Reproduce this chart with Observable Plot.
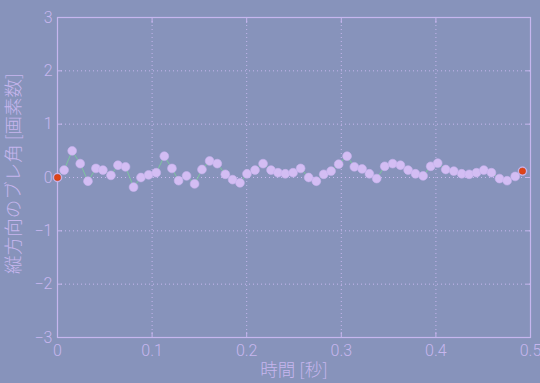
<!DOCTYPE html>
<html><head><meta charset="utf-8">
<script src="https://cdn.jsdelivr.net/npm/d3@7"></script>
<script src="https://cdn.jsdelivr.net/npm/@observablehq/plot@0.6"></script>
<style>html,body{margin:0;padding:0;background:#8793bb;overflow:hidden;}</style>
</head><body><div id="chart"></div>
<script>
const times = [0, 0.007, 0.0155, 0.024, 0.0322, 0.0406, 0.048, 0.0565, 0.0639, 0.0719,
  0.0804, 0.0882, 0.0963, 0.1044, 0.1129, 0.121, 0.128, 0.1364, 0.1449, 0.1527,
  0.1608, 0.1689, 0.1774, 0.1851, 0.1929, 0.2003, 0.2088, 0.2173, 0.2257, 0.2331,
  0.2408, 0.249, 0.257, 0.2655, 0.2736, 0.2814, 0.2892, 0.2972, 0.3061, 0.3138,
  0.322, 0.3297, 0.3374, 0.3459, 0.3543, 0.3625, 0.3706, 0.3784, 0.3865, 0.3945,
  0.4019, 0.4104, 0.4189, 0.4273, 0.4352, 0.4429, 0.4506, 0.4587, 0.4672, 0.4753,
  0.4838, 0.4915];
const values = [0, 0.14, 0.50, 0.26, -0.07, 0.17, 0.14, 0.04, 0.23, 0.20,
  -0.18, 0.0, 0.05, 0.09, 0.40, 0.17, -0.06, 0.03, -0.12, 0.15,
  0.31, 0.26, 0.06, -0.04, -0.10, 0.07, 0.14, 0.26, 0.14, 0.09,
  0.07, 0.09, 0.17, 0.0, -0.07, 0.06, 0.12, 0.25, 0.40, 0.20,
  0.16, 0.07, -0.02, 0.21, 0.26, 0.23, 0.14, 0.07, 0.03, 0.21,
  0.27, 0.15, 0.12, 0.07, 0.06, 0.09, 0.14, 0.09, -0.02, -0.06,
  0.02, 0.12];
const xTicks = [0, 0.1, 0.2, 0.3, 0.4, 0.5];
const yTicks = [-3, -2, -1, 0, 1, 2, 3];
const xLabel = "時間 [秒]";
const yLabel = "縦方向のブレ角 [画素数]";

const data = times.map((t, i) => ({t, v: values[i]}));
const ends = [data[0], data[data.length - 1]];
const bg = "#8793bb";
const lav = "#c6b6ee";
const fmtY = d => d < 0 ? "\u2212" + Math.abs(d) : String(d);
const fmtX = d => d === 0 ? "0" : d.toFixed(1);
const cjk = "'Noto Sans CJK JP', sans-serif";

const chart = Plot.plot({
  width: 540, height: 383,
  marginLeft: 57, marginRight: 10, marginTop: 17, marginBottom: 46,
  style: {background: bg, color: lav, fontFamily: "Roboto, 'Liberation Sans', sans-serif", fontSize: "16px", fontWeight: 300},
  x: {domain: [0, 0.5]},
  y: {domain: [-3, 3]},
  marks: [
    Plot.gridX(xTicks.slice(1, -1), {stroke: lav, strokeOpacity: 1, strokeDasharray: "1,3"}),
    Plot.gridY(yTicks.slice(1, -1), {stroke: lav, strokeOpacity: 1, strokeDasharray: "1,3"}),
    Plot.frame({stroke: lav, strokeWidth: 1.2}),
    Plot.axisX(xTicks, {anchor: "bottom", tickSize: -5, fill: "none", stroke: lav}),
    Plot.axisX(xTicks, {anchor: "top", tickSize: -5, fill: "none", stroke: lav}),
    Plot.axisY(yTicks, {anchor: "left", tickSize: -5, fill: "none", stroke: lav}),
    Plot.axisY(yTicks, {anchor: "right", tickSize: -5, fill: "none", stroke: lav}),
    Plot.axisX(xTicks, {anchor: "bottom", tickSize: 0, tickPadding: 7, tickFormat: fmtX, label: null, fill: lav}),
    Plot.axisY(yTicks, {anchor: "left", tickSize: 0, tickPadding: 5, tickFormat: fmtY, label: null, fill: lav}),
    Plot.text([xLabel], {text: d => d, frameAnchor: "bottom", dy: 33, lineAnchor: "middle", textAnchor: "middle", fill: lav, fontSize: 17.5, fontFamily: cjk, fontWeight: 300}),
    Plot.text([yLabel], {text: d => d, frameAnchor: "left", dx: -43, dy: -4, rotate: -90, lineAnchor: "middle", textAnchor: "middle", fill: lav, fontSize: 18.5, fontFamily: cjk, fontWeight: 300}),
    Plot.line(data, {x: "t", y: "v", stroke: "#7cc69e", strokeWidth: 1}),
    Plot.dot(data, {x: "t", y: "v", r: 4.4, fill: "#d3bdf3", stroke: "#c8b2ee", strokeWidth: 0.6}),
    Plot.dot(ends, {x: "t", y: "v", r: 3.2, fill: "#de4419", stroke: "#c23a14", strokeWidth: 0.5})
  ]
});
document.getElementById("chart").append(chart);
</script>
</body></html>
